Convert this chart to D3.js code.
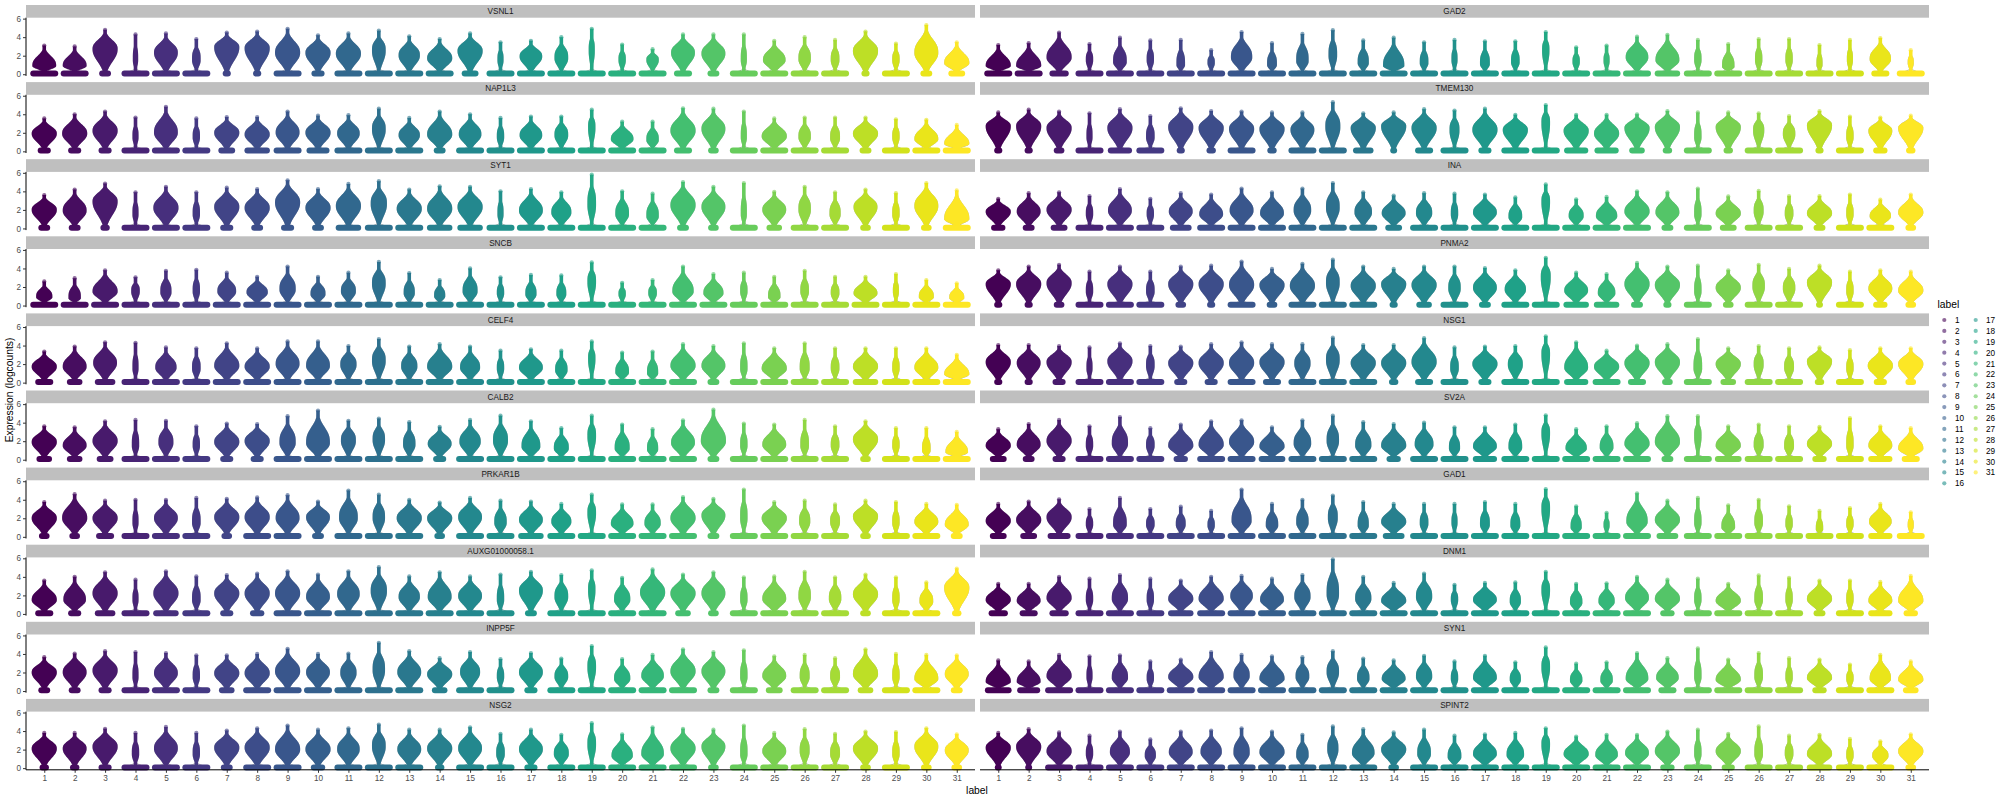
<!DOCTYPE html>
<html><head><meta charset="utf-8">
<script src="https://cdn.jsdelivr.net/npm/d3@7"></script>
<style>body{margin:0;background:#fff} text{font-family:"Liberation Sans",Arial,sans-serif}</style>
</head><body><svg id="c" width="2000" height="800"></svg>
<script>
// facet order (facet_wrap, 2 columns, filled by row)
const genes = ["VSNL1","GAD2","NAP1L3","TMEM130","SYT1","INA","SNCB","PNMA2","CELF4","NSG1",
  "CALB2","SV2A","PRKAR1B","GAD1","AUXG01000058.1","DNM1","INPP5F","SYN1","NSG2","SPINT2"];
const clusters = ["1","2","3","4","5","6","7","8","9","10","11","12","13","14","15","16",
  "17","18","19","20","21","22","23","24","25","26","27","28","29","30","31"];
const yTickValues = [0, 2, 4, 6];

// maximum expression (top of each violin), per gene (row) and cluster (column)
const violinTop = [
 [3.1,3.0,4.8,4.3,4.4,3.8,4.5,4.6,4.9,4.2,4.4,4.7,4.1,3.8,4.4,3.45,3.6,4.0,4.9,3.2,2.7,4.3,4.3,4.3,3.6,4.0,3.7,4.6,3.3,5.3,3.45],
 [3.15,3.35,4.5,3.25,3.95,3.65,3.7,2.6,4.55,3.35,4.35,4.75,3.65,3.95,3.45,3.7,3.55,3.55,4.55,2.9,3.1,4.05,4.25,3.7,3.25,3.8,3.8,3.15,3.7,3.9,2.6],
 [3.55,4.0,4.3,3.65,4.8,3.55,3.7,3.7,4.3,3.85,3.9,4.6,3.6,4.3,4.0,3.6,3.75,3.75,4.5,3.2,3.2,4.65,4.6,4.3,3.55,3.65,3.65,3.65,3.45,3.4,2.85],
 [4.2,4.5,4.3,4.1,4.55,3.8,4.65,4.35,4.3,4.2,4.2,5.3,4.1,4.2,4.55,4.4,4.6,3.95,5.0,3.95,3.95,4.0,4.35,4.2,4.2,4.1,3.8,4.35,3.75,3.65,3.85],
 [3.6,4.2,4.85,3.9,4.5,3.9,4.4,4.25,5.2,4.25,4.8,5.1,4.2,4.55,4.5,4.0,4.25,3.9,5.8,4.0,3.75,5.0,4.5,4.9,3.95,4.5,3.9,4.2,3.8,4.9,4.1],
 [3.2,3.8,3.9,3.5,4.25,3.2,3.8,3.65,4.3,3.9,4.3,4.9,3.9,3.55,3.8,3.75,3.65,3.35,4.75,3.15,3.4,4.0,3.9,4.3,3.45,4.05,3.5,3.5,3.65,3.1,3.65],
 [2.6,2.95,3.8,3.05,3.75,3.85,3.55,3.1,4.2,3.1,3.55,4.7,3.5,2.75,4.0,3.05,3.3,3.25,4.65,2.45,2.75,4.2,3.4,3.55,3.1,3.75,3.1,3.1,3.4,2.75,2.4],
 [3.8,4.2,4.4,3.65,4.2,3.65,4.2,4.3,4.75,3.95,4.5,4.95,4.2,3.95,4.2,4.2,4.05,3.8,5.15,3.55,3.4,4.6,4.2,4.3,3.8,4.4,3.95,4.3,3.65,3.8,3.65],
 [3.35,3.9,4.35,4.3,3.8,3.7,4.25,3.7,4.45,4.45,3.95,4.7,3.9,4.15,3.9,3.45,3.6,3.45,4.45,3.25,3.35,4.15,3.95,4.25,3.7,4.25,3.7,3.7,3.7,3.7,3.0],
 [4.05,4.05,3.95,3.8,4.25,3.95,3.9,4.15,4.35,4.15,4.15,4.85,4.05,4.05,4.8,3.8,3.9,3.95,5.0,4.35,3.45,4.0,4.15,4.7,3.7,3.95,3.7,3.8,3.5,3.7,3.7],
 [3.6,3.5,4.15,4.3,4.2,3.6,3.9,3.85,4.7,5.3,4.2,4.45,4.05,3.55,4.3,4.75,4.15,3.4,4.75,3.8,3.3,4.25,5.4,3.9,3.8,4.3,3.6,4.15,3.4,3.4,3.0],
 [3.3,3.85,4.3,3.6,4.6,3.4,3.8,4.15,4.25,3.5,4.25,4.75,4.05,3.85,4.0,3.5,3.5,3.8,4.8,3.3,3.6,3.95,4.7,4.7,3.6,3.8,3.6,3.55,4.5,3.6,3.4],
 [3.75,4.6,3.9,4.0,4.0,4.2,4.1,4.25,4.5,3.8,5.0,4.55,4.0,3.7,4.2,3.9,3.8,3.55,4.55,3.5,3.5,4.3,4.1,5.1,3.75,3.9,3.5,3.9,3.75,3.55,3.45],
 [3.55,3.8,4.05,3.0,4.2,3.0,3.25,2.8,5.1,3.55,4.0,4.45,3.75,3.55,3.55,3.55,3.75,3.55,5.15,3.3,2.6,4.7,3.9,4.2,3.4,4.0,3.3,2.8,3.1,3.55,2.65],
 [3.6,4.0,4.5,3.7,4.6,4.05,4.2,4.35,4.6,4.25,4.6,5.05,4.05,4.5,4.05,4.25,4.55,4.2,4.7,3.9,4.8,4.25,4.5,3.95,4.05,4.55,3.95,4.25,3.95,3.4,4.9],
 [3.25,3.25,4.0,3.8,4.2,3.8,3.6,4.0,4.1,3.8,4.2,5.9,4.0,3.35,4.35,3.15,3.35,3.4,4.55,3.25,3.3,4.0,3.7,3.8,3.25,4.15,3.9,3.6,3.6,3.45,4.1],
 [3.65,4.05,4.3,4.2,4.1,3.85,3.85,4.0,4.55,4.0,4.05,5.2,4.3,3.55,4.2,3.45,4.1,3.5,4.85,3.45,3.9,4.5,4.2,4.4,3.75,3.9,3.55,4.5,4.0,3.9,3.85],
 [3.3,3.2,3.9,3.75,3.85,3.2,3.4,4.2,3.9,3.75,3.65,4.3,3.5,3.3,3.8,3.2,3.8,3.1,4.7,2.95,3.1,4.1,3.55,4.6,3.4,4.1,3.55,3.4,2.85,3.9,3.2],
 [3.8,3.8,4.25,3.8,4.45,3.8,4.05,4.3,4.6,4.15,4.3,4.7,4.15,4.15,4.4,3.7,4.15,3.6,4.85,3.65,4.4,4.25,4.15,4.6,3.8,4.2,3.7,3.95,3.9,4.3,3.65],
 [3.8,4.2,3.85,3.5,3.95,3.1,3.95,4.05,4.3,3.95,3.6,4.5,4.2,3.85,4.15,3.5,3.65,3.8,4.3,3.4,3.6,3.6,3.95,4.15,3.7,4.5,3.5,3.6,3.15,2.9,3.65]
];
// expression level where the non-zero part of each violin is widest
const violinMode = [
 [0.9,0.9,2.7,1.5,2.3,1.5,2.9,2.8,2.3,2.3,2.2,2.5,2.0,1.7,2.5,1.5,1.9,1.7,2.5,1.5,1.5,2.3,2.2,1.5,1.5,1.6,1.5,2.5,1.5,2.3,1.2],
 [0.9,0.9,1.8,1.5,1.3,1.5,1.0,1.2,1.8,1.0,1.4,2.0,1.2,0.9,1.2,1.5,1.1,1.3,2.5,1.3,1.4,1.8,1.5,1.5,0.8,1.5,1.5,1.0,1.5,1.6,1.2],
 [1.9,1.9,2.2,1.5,2.0,1.5,2.0,1.8,2.0,2.0,1.9,2.3,1.7,1.8,1.8,1.5,1.7,1.7,2.5,1.3,1.2,2.2,2.4,1.5,1.6,1.5,1.4,1.9,1.5,1.3,0.8],
 [2.7,2.7,2.5,1.5,2.5,1.5,2.6,2.5,2.4,2.4,2.3,2.6,2.5,2.7,2.5,2.2,2.3,2.3,3.0,2.2,1.9,2.5,2.6,1.5,2.6,2.2,1.8,2.8,1.5,2.2,2.5],
 [2.0,1.9,2.9,1.5,2.2,1.5,2.3,2.2,2.8,2.2,2.4,2.6,2.1,2.1,2.3,1.5,1.9,1.7,2.5,1.5,1.3,2.5,2.3,1.5,2.0,2.0,1.5,2.3,1.5,2.4,1.0],
 [1.8,1.8,2.0,1.5,1.9,1.5,1.8,1.5,1.9,1.6,1.9,2.2,1.7,1.6,1.6,1.5,1.7,1.2,2.8,1.3,1.3,1.8,1.7,1.5,1.6,1.8,1.5,1.6,1.5,1.3,1.7],
 [0.9,0.8,1.5,1.5,1.4,1.5,1.5,1.4,1.7,1.2,1.5,2.3,1.3,1.0,1.5,1.3,1.2,1.2,2.5,1.2,1.3,1.5,1.3,1.5,0.9,1.5,1.3,1.3,1.5,0.9,0.8],
 [2.3,2.3,2.4,1.5,2.3,1.5,2.3,2.3,2.2,2.2,2.1,2.4,2.1,2.3,2.2,1.8,1.9,1.7,3.0,1.6,1.3,2.3,2.2,1.5,1.9,2.0,1.8,2.5,1.5,1.8,1.6],
 [1.7,1.7,2.1,1.5,1.6,1.5,1.8,1.7,2.0,1.8,1.9,2.3,1.7,1.7,1.6,1.5,1.6,1.3,2.5,1.1,1.0,1.8,1.8,1.5,1.5,1.5,1.5,1.7,1.5,1.6,0.9],
 [2.2,2.1,2.2,1.5,2.3,1.8,2.1,2.1,2.1,2.2,2.0,2.4,2.1,2.1,2.2,1.5,2.0,1.9,3.0,1.6,1.7,2.1,2.2,1.5,2.0,1.9,1.6,2.3,1.5,1.8,2.0],
 [1.9,1.5,2.0,1.5,1.8,1.5,1.9,2.0,1.8,1.8,2.0,2.1,1.6,1.7,1.9,2.0,1.4,1.2,2.5,1.2,1.1,1.8,2.0,1.5,1.6,1.5,1.5,2.2,1.5,1.0,0.8],
 [1.5,1.6,2.0,1.5,1.7,1.5,1.5,1.6,1.9,1.4,1.7,2.0,1.5,1.5,1.6,1.2,1.4,1.3,2.8,1.2,1.3,1.7,1.9,2.5,1.5,1.5,1.4,1.7,1.5,1.5,1.2],
 [2.0,2.0,2.0,1.5,2.0,1.5,2.1,2.1,2.0,2.1,2.0,2.0,2.0,2.0,2.1,1.5,1.8,1.6,2.5,1.4,1.4,2.0,2.3,2.0,2.0,1.6,1.6,2.2,1.5,1.6,1.3],
 [1.7,1.8,2.1,1.3,1.3,1.3,1.3,1.2,1.7,1.2,1.5,2.0,1.2,1.6,1.4,1.5,1.3,1.2,3.0,1.0,1.2,1.6,1.8,1.5,1.0,1.5,1.3,0.8,1.3,1.6,1.2],
 [1.5,1.5,2.2,1.5,2.2,1.5,2.2,2.2,2.2,1.8,2.1,2.4,1.8,1.8,1.9,1.5,2.5,1.8,2.5,1.5,2.3,2.2,2.2,1.5,1.6,1.8,1.6,2.1,1.5,1.3,2.8],
 [1.5,1.4,1.7,1.5,1.6,1.5,1.6,1.6,1.9,1.5,1.8,2.1,1.6,1.4,1.8,1.5,1.5,1.3,2.5,1.2,1.3,1.7,1.6,1.5,1.4,1.5,1.5,1.6,1.5,1.4,1.4],
 [2.0,2.0,2.2,1.5,1.9,1.5,1.9,1.9,2.1,2.0,1.9,2.2,2.0,1.8,2.0,1.5,2.0,1.5,2.5,1.3,1.6,2.1,2.1,1.5,1.6,1.5,1.5,1.8,1.5,1.3,1.8],
 [1.0,1.0,1.6,1.5,1.4,1.3,1.5,1.5,1.6,1.3,1.5,2.0,1.3,1.3,1.5,1.3,1.4,1.2,2.5,1.1,1.1,1.3,1.4,1.5,1.2,1.5,1.4,1.4,1.3,1.3,1.2],
 [2.1,2.1,2.3,1.5,2.1,1.5,2.2,2.2,2.0,2.0,2.0,2.3,2.0,2.1,2.1,1.5,2.0,1.5,2.5,1.3,1.5,2.1,2.3,1.5,1.8,1.8,1.5,2.1,1.5,2.3,1.9],
 [2.2,2.3,1.8,1.5,1.7,1.3,1.7,1.7,1.6,1.7,1.3,2.0,1.6,2.0,1.5,1.2,1.5,1.4,2.5,1.5,1.4,1.6,1.8,1.5,1.8,1.5,1.5,1.5,1.3,1.3,1.8]
];
// relative width of the non-zero bulge (1 = full violin width)
const bulgeWidth = [
 [0.9,0.9,0.95,0.17,0.9,0.3,0.95,0.95,0.95,0.95,0.95,0.5,0.8,0.95,0.95,0.2,0.85,0.5,0.2,0.25,0.45,0.9,0.9,0.2,0.85,0.45,0.3,0.95,0.25,0.9,0.95],
 [0.95,0.95,0.95,0.25,0.5,0.25,0.3,0.25,0.8,0.35,0.45,0.3,0.4,0.8,0.3,0.2,0.35,0.3,0.25,0.25,0.2,0.85,0.9,0.25,0.45,0.25,0.25,0.2,0.2,0.8,0.2],
 [0.95,0.95,0.95,0.2,0.9,0.25,0.95,0.95,0.9,0.95,0.85,0.5,0.8,0.95,0.85,0.25,0.85,0.5,0.25,0.85,0.45,0.95,0.9,0.2,0.95,0.45,0.35,0.95,0.25,0.9,0.95],
 [0.95,0.95,0.95,0.2,0.95,0.3,0.95,0.95,0.95,0.95,0.9,0.55,0.95,0.95,0.95,0.35,0.95,0.95,0.3,0.95,0.95,0.95,0.95,0.25,0.95,0.4,0.45,0.95,0.25,0.9,0.95],
 [0.95,0.9,0.95,0.2,0.95,0.25,0.95,0.95,0.95,0.95,0.95,0.6,0.95,0.95,0.95,0.2,0.9,0.75,0.3,0.5,0.45,0.95,0.9,0.2,0.9,0.45,0.4,0.9,0.25,0.9,0.95],
 [0.95,0.9,0.95,0.25,0.9,0.25,0.9,0.9,0.9,0.9,0.65,0.5,0.65,0.9,0.6,0.25,0.9,0.5,0.3,0.55,0.8,0.95,0.9,0.25,0.95,0.35,0.3,0.95,0.25,0.8,0.95],
 [0.6,0.45,0.95,0.3,0.4,0.25,0.7,0.8,0.6,0.55,0.55,0.5,0.4,0.4,0.55,0.25,0.4,0.35,0.3,0.25,0.3,0.8,0.75,0.25,0.45,0.3,0.3,0.9,0.2,0.55,0.55],
 [0.95,0.95,0.95,0.25,0.95,0.3,0.95,0.95,0.95,0.95,0.95,0.5,0.95,0.95,0.95,0.45,0.9,0.8,0.35,0.9,0.65,0.95,0.95,0.25,0.95,0.45,0.45,0.95,0.25,0.9,0.95],
 [0.95,0.9,0.9,0.2,0.8,0.3,0.95,0.95,0.9,0.9,0.6,0.5,0.6,0.95,0.75,0.25,0.9,0.45,0.25,0.5,0.4,0.95,0.9,0.25,0.95,0.35,0.3,0.95,0.25,0.9,0.95],
 [0.95,0.9,0.95,0.2,0.95,0.3,0.95,0.95,0.95,0.95,0.6,0.5,0.95,0.95,0.95,0.3,0.95,0.55,0.3,0.9,0.95,0.95,0.95,0.3,0.95,0.35,0.35,0.95,0.25,0.95,0.95],
 [0.95,0.9,0.95,0.25,0.55,0.25,0.95,0.95,0.6,0.9,0.55,0.45,0.45,0.9,0.8,0.55,0.7,0.55,0.3,0.55,0.4,0.9,0.95,0.25,0.9,0.3,0.3,0.95,0.25,0.3,0.85],
 [0.95,0.9,0.95,0.25,0.6,0.3,0.95,0.95,0.95,0.95,0.65,0.45,0.6,0.95,0.7,0.4,0.9,0.5,0.3,0.8,0.5,0.95,0.95,0.25,0.95,0.35,0.35,0.95,0.25,0.9,0.95],
 [0.95,0.95,0.95,0.2,0.9,0.3,0.95,0.95,0.9,0.9,0.7,0.45,0.95,0.95,0.9,0.45,0.9,0.75,0.3,0.85,0.6,0.95,0.9,0.25,0.95,0.4,0.35,0.95,0.25,0.9,0.9],
 [0.95,0.95,0.95,0.25,0.5,0.3,0.35,0.25,0.75,0.45,0.45,0.35,0.4,0.95,0.3,0.2,0.35,0.35,0.3,0.4,0.2,0.8,0.95,0.25,0.5,0.3,0.25,0.25,0.25,0.85,0.2],
 [0.95,0.85,0.95,0.2,0.95,0.3,0.95,0.95,0.95,0.9,0.85,0.6,0.8,0.9,0.9,0.25,0.9,0.5,0.25,0.6,0.95,0.95,0.9,0.25,0.9,0.45,0.45,0.95,0.25,0.5,0.95],
 [0.95,0.9,0.95,0.25,0.6,0.25,0.95,0.95,0.85,0.9,0.6,0.45,0.6,0.95,0.6,0.25,0.9,0.4,0.3,0.45,0.6,0.9,0.95,0.25,0.95,0.3,0.25,0.95,0.25,0.9,0.95],
 [0.95,0.9,0.95,0.2,0.9,0.25,0.95,0.95,0.95,0.9,0.6,0.45,0.9,0.95,0.75,0.25,0.9,0.5,0.3,0.6,0.85,0.95,0.9,0.25,0.9,0.35,0.35,0.95,0.25,0.9,0.9],
 [0.95,0.9,0.95,0.2,0.6,0.25,0.95,0.95,0.6,0.95,0.5,0.45,0.45,0.9,0.6,0.25,0.9,0.4,0.3,0.45,0.45,0.85,0.85,0.25,0.95,0.3,0.25,0.95,0.25,0.8,0.95],
 [0.95,0.9,0.95,0.25,0.9,0.25,0.95,0.95,0.95,0.95,0.85,0.5,0.9,0.95,0.9,0.3,0.9,0.55,0.3,0.8,0.85,0.95,0.9,0.25,0.9,0.35,0.35,0.95,0.25,0.9,0.9],
 [0.95,0.95,0.95,0.25,0.75,0.4,0.9,0.8,0.6,0.95,0.45,0.4,0.85,0.95,0.5,0.5,0.9,0.65,0.3,0.95,0.85,0.9,0.95,0.25,0.95,0.3,0.3,0.95,0.25,0.6,0.95]
];
// relative width of the band of zero counts at the foot of each violin
const zeroWidth = [
 [1,1,0.35,1,1,1,0.2,0.2,1,0.4,1,1,1,1,0.55,1,1,1,1,1,1,0.6,0.35,1,1,1,1,0.2,1,0.35,0.55],
 [1,1,0.65,1,1,1,1,1,1,1,1,1,1,1,1,1,1,1,1,1,1,1,0.9,1,1,1,1,1,1,0.6,1],
 [0.4,0.4,0.4,1,1,1,0.55,0.9,1,0.8,1,1,1,0.35,1,1,1,1,1,1,1,0.6,0.3,1,1,1,1,0.35,1,1,1],
 [0.2,0.2,0.3,1,0.85,1,0.2,0.25,1,0.25,1,1,0.7,0.15,0.6,1,0.4,1,1,0.85,0.85,0.5,0.25,1,0.25,1,1,0.2,1,0.45,0.25],
 [0.35,0.35,0.25,1,1,1,0.4,0.35,0.4,0.35,0.9,1,1,0.9,0.9,1,1,1,1,1,1,0.35,0.3,1,0.5,1,1,0.3,1,0.3,1],
 [0.45,0.35,0.55,1,1,1,0.75,1,1,1,1,1,1,0.55,1,1,1,1,1,1,1,1,0.35,1,0.55,1,1,0.35,1,1,0.3],
 [1,1,1,1,1,1,1,1,1,1,1,1,1,1,1,1,1,1,1,1,1,1,1,1,1,1,1,1,1,1,1],
 [0.2,0.2,0.3,1,1,1,0.3,0.2,1,0.3,1,1,1,0.2,0.5,1,0.35,1,1,0.9,0.9,0.35,0.2,1,0.3,1,1,0.15,1,0.45,0.3],
 [0.6,0.5,0.7,1,1,1,1,1,1,1,1,1,1,1,1,1,1,1,1,1,1,1,0.35,1,1,1,1,0.9,1,1,1],
 [0.2,0.2,0.4,1,1,1,0.4,0.4,1,0.6,1,1,1,0.25,0.6,1,0.4,1,1,0.85,1,0.6,0.3,1,0.5,1,1,0.25,1,0.4,0.3],
 [0.5,0.5,0.55,1,1,1,0.4,0.4,1,1,1,1,1,0.4,1,1,1,1,1,1,1,1,0.35,1,1,1,1,0.3,1,1,1],
 [0.55,0.35,0.4,1,1,1,0.45,1,1,0.95,1,1,1,0.45,1,1,0.85,1,1,1,1,1,0.35,1,0.95,1,1,0.45,1,0.85,0.6],
 [0.3,0.3,0.6,1,1,1,0.3,1,1,0.35,1,1,1,0.3,1,1,0.9,1,1,1,1,1,0.35,1,1,1,1,0.3,1,1,0.35],
 [0.55,0.55,0.8,1,1,1,1,1,1,1,1,1,1,0.75,1,1,1,1,1,1,1,1,0.75,1,1,1,1,1,1,0.85,1],
 [0.6,0.4,0.7,1,0.9,1,0.4,0.45,1,1,1,1,1,1,1,1,0.35,1,1,1,1,0.5,0.3,1,1,1,1,0.3,1,1,0.25],
 [0.65,0.6,0.65,1,1,1,0.9,1,1,1,1,1,1,1,1,1,1,1,1,1,1,1,0.45,1,1,1,1,0.35,1,0.85,0.45],
 [0.35,0.35,0.4,1,1,1,0.5,1,1,1,1,1,1,0.5,1,1,0.4,1,1,1,1,1,0.35,1,0.55,1,1,0.5,1,1,0.35],
 [0.95,0.8,1,1,1,1,1,1,1,1,1,1,1,1,1,1,1,1,1,1,1,1,0.6,1,1,1,1,0.45,1,1,0.5],
 [0.25,0.25,0.4,1,1,1,0.35,1,1,0.45,1,1,1,0.25,1,1,0.4,1,1,1,1,1,0.3,1,1,1,1,0.3,1,0.3,0.3],
 [0.15,0.15,1,1,1,1,1,1,1,1,1,1,1,0.3,1,1,1,1,1,1,1,1,0.45,1,0.4,1,1,0.9,1,1,0.3]
];

const svg = d3.select("#c");
const color = d3.scaleOrdinal().domain(clusters)
  .range(clusters.map((c, i) => d3.interpolateViridis(i / (clusters.length - 1))));

const colX = [26, 980], panelW = 949, rowPitch = 77.1, stripH = 12.7, panelH = 58.2, firstTop = 5;
const smallFont = "8.2px", titleFont = "10.3px";

genes.forEach((gene, gi) => {
  const r = Math.floor(gi / 2), c = gi % 2;
  const x0 = colX[c], top = firstTop + r * rowPitch;
  const pTop = top + stripH, pBot = pTop + panelH;
  const x = d3.scalePoint().domain(clusters).range([x0, x0 + panelW]).padding(0.6);
  const y = d3.scaleLinear().domain([-0.18, 6.1]).range([pBot, pTop]);
  const g = svg.append("g");

  g.append("rect").attr("x", x0).attr("y", top).attr("width", panelW).attr("height", stripH).attr("fill", "#bfbfbf");
  g.append("text").attr("x", x0 + panelW / 2).attr("y", top + stripH / 2 + 2.9)
    .attr("text-anchor", "middle").style("font-size", smallFont).attr("fill", "#1a1a1a").text(gene);

  const maxHalf = x.step() * 0.45 - 1.0;
  const base = 0.3;
  const outlineArea = d3.area().curve(d3.curveLinear);
  const bodyArea = d3.area().curve(d3.curveCatmullRom);

  clusters.forEach((cl, ci) => {
    const t = violinTop[gi][ci], m = violinMode[gi][ci], b = bulgeWidth[gi][ci], z = zeroWidth[gi][ci];
    const cx = x(cl), col = color(cl);
    const pw = 2.5 + (1 - b) * 2.0;
    const bulge = v => {
      if (v <= m) {
        const s = (m - v) / Math.max(m - base, 0.25);
        return b * maxHalf * Math.exp(-Math.pow(s * 1.35, 2.2));
      }
      const u = (v - m) / Math.max(t - m, 0.25);
      return b * maxHalf * Math.exp(-Math.pow(u * 1.7, pw));
    };
    const zh = z * (maxHalf - 0.3);

    // grey violin outline (visible where the zero band meets the bulge)
    const ov = d3.range(0, 61).map(k => t * k / 60);
    const oPts = ov.map(v => ({v, h: Math.max(v < 0.55 ? zh * (1 - v / 0.55) : 0, bulge(v), 0.3)}));
    g.append("path").datum(oPts)
      .attr("d", outlineArea.x0(d => cx - d.h).x1(d => cx + d.h).y(d => y(d.v)))
      .attr("fill", "none").attr("stroke", "#9a9a9a").attr("stroke-width", 0.8);

    // zero band
    const bh = 6;
    g.append("rect").attr("x", cx - zh - 1.6).attr("y", y(0.08) - bh / 2)
      .attr("width", 2 * zh + 3.2).attr("height", bh).attr("rx", bh / 2).attr("fill", col);

    // bulge of expressing cells
    const bv = d3.range(0, 61).map(k => base + (t - base) * k / 60);
    const bPts = bv.map(v => ({v, h: Math.max(bulge(v), 1.3) + 0.5}));
    g.append("path").datum(bPts)
      .attr("d", bodyArea.x0(d => cx - d.h).x1(d => cx + d.h).y(d => y(d.v)))
      .attr("fill", col);

    // highest cell
    g.append("circle").attr("cx", cx).attr("cy", y(t)).attr("r", 2.1)
      .attr("fill", col).attr("fill-opacity", 0.6);
  });

  if (c === 0) {
    const ya = g.append("g").attr("transform", `translate(${x0},0)`)
      .call(d3.axisLeft(y).tickValues(yTickValues).tickSize(3).tickPadding(2).tickFormat(d3.format("d")));
    ya.select(".domain").attr("d", `M0,${pTop}V${pBot}`).attr("stroke", "#000");
    ya.selectAll(".tick line").attr("stroke", "#333");
    ya.selectAll("text").style("font-size", smallFont).attr("fill", "#4d4d4d")
      .style("font-family", '"Liberation Sans",Arial,sans-serif');
  }
  if (r === 9) {
    const xa = g.append("g").attr("transform", `translate(0,${pBot})`)
      .call(d3.axisBottom(x).tickSize(3).tickPadding(2));
    xa.select(".domain").attr("d", `M${x0},0H${x0 + panelW}`).attr("stroke", "#000");
    xa.selectAll(".tick line").attr("stroke", "#333");
    xa.selectAll("text").style("font-size", smallFont).attr("fill", "#4d4d4d")
      .style("font-family", '"Liberation Sans",Arial,sans-serif');
  }
});

// axis titles
svg.append("text").attr("transform", "translate(13,390) rotate(-90)").attr("text-anchor", "middle")
  .style("font-size", titleFont).attr("fill", "#000").text("Expression (logcounts)");
svg.append("text").attr("x", 977).attr("y", 793.5).attr("text-anchor", "middle")
  .style("font-size", titleFont).attr("fill", "#000").text("label");

// legend
const leg = svg.append("g");
leg.append("text").attr("x", 1937.5).attr("y", 308.3).style("font-size", titleFont).attr("fill", "#000").text("label");
const legDotX = [1944.3, 1975.7], legTextX = [1955, 1986];
clusters.forEach((cl, i) => {
  const col = i < 16 ? 0 : 1, row = i < 16 ? i : i - 16;
  const cy = 320 + row * 10.89;
  leg.append("circle").attr("cx", legDotX[col]).attr("cy", cy).attr("r", 2.1)
    .attr("fill", color(cl)).attr("fill-opacity", 0.6);
  leg.append("text").attr("x", legTextX[col]).attr("y", cy + 3).style("font-size", smallFont)
    .attr("fill", "#000").text(cl);
});
</script></body></html>
